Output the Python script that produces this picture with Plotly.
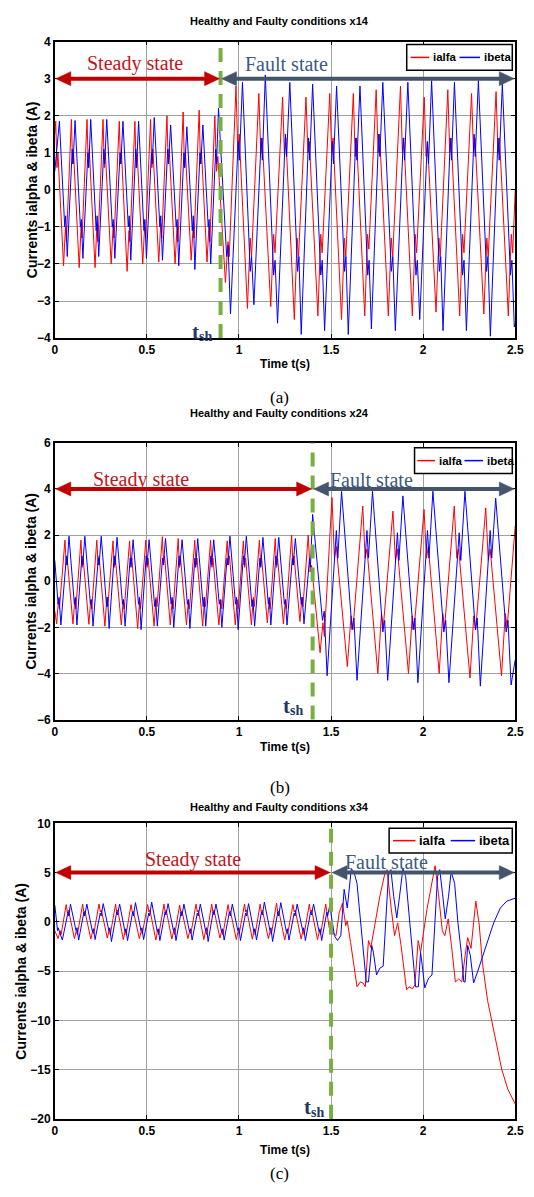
import plotly.graph_objects as go

# ---------------- data ----------------
# phase positions (fraction of local period after each peak) at which values are sampled
PH_IALFA = [0.0, 0.08, 0.14, 0.5, 0.62, 0.68]   # peak, fall-notch lo/hi, trough, rise-notch hi/lo
PH_IBETA = [0.0, 0.34, 0.40, 0.5, 0.82, 0.87]   # peak, fall-notch lo/hi, trough, rise-notch hi/lo

# ---- panel (a) x14, fault at 0.9 s ----
A_TSH = 0.9
A_IALFA_START_T = [0.0]
A_IALFA_START_V = [1.5]
A_IALFA_PEAK_T = [0.005, 0.090, 0.175, 0.262, 0.350, 0.435, 0.520, 0.609, 0.697, 0.784, 0.869,
                  0.984, 1.108, 1.237, 1.364, 1.493, 1.621, 1.745, 1.877, 2.006, 2.134, 2.263, 2.396]
A_IALFA_CYCLES = [
    (1.85, 0.6, 1.0, -2.05, -1.0, -1.4), (1.9, 0.7, 1.0, -2.1, -1.0, -1.3),
    (1.9, 0.6, 1.1, -2.1, -0.9, -1.4), (1.9, 0.6, 1.0, -2.0, -1.0, -1.3),
    (1.85, 0.7, 1.0, -2.2, -1.1, -1.4), (1.85, 0.6, 1.0, -2.0, -1.0, -1.3),
    (1.9, 0.6, 1.1, -1.95, -0.9, -1.3), (2.0, 0.7, 1.1, -2.0, -1.0, -1.4),
    (2.1, 0.6, 1.0, -1.9, -1.0, -1.3), (2.15, 0.7, 1.1, -1.95, -1.0, -1.4),
    (2.0, 0.5, 0.9, -2.5, -1.4, -1.8),
    (2.8, 1.0, 1.5, -3.2, -1.3, -1.8), (2.6, 1.0, 1.4, -3.15, -1.2, -1.7),
    (2.5, 0.9, 1.4, -3.5, -1.3, -1.8), (2.5, 1.0, 1.3, -3.4, -1.2, -1.7),
    (2.6, 1.0, 1.4, -3.5, -1.3, -1.8), (2.6, 0.9, 1.4, -3.4, -1.2, -1.6),
    (2.7, 1.0, 1.5, -3.4, -1.3, -1.8), (2.8, 1.0, 1.4, -3.4, -1.2, -1.7),
    (2.5, 0.9, 1.3, -3.3, -1.3, -1.8), (2.7, 1.0, 1.4, -3.4, -1.2, -1.7),
    (2.6, 1.0, 1.4, -3.35, -1.3, -1.8), (2.65, 1.0, 1.4, -3.4, -1.2, -1.7)]
A_IALFA_END_T = [2.5]
A_IALFA_END_V = [0.0]

A_IBETA_START_T = [0.0]
A_IBETA_START_V = [0.5]
A_IBETA_PEAK_T = [0.025, 0.110, 0.195, 0.282, 0.370, 0.455, 0.540, 0.629, 0.717, 0.804, 0.889,
                  1.019, 1.143, 1.276, 1.400, 1.530, 1.657, 1.781, 1.917, 2.046, 2.170, 2.300, 2.430]
A_IBETA_CYCLES = [
    (1.85, -1.0, -0.7, -1.8, 1.1, 0.7), (1.87, -1.0, -0.8, -1.85, 1.0, 0.6),
    (1.9, -1.1, -0.7, -1.8, 1.1, 0.7), (1.9, -1.0, -0.8, -1.85, 1.0, 0.7),
    (1.85, -1.0, -0.7, -1.9, 1.1, 0.6), (1.85, -1.1, -0.8, -1.85, 1.0, 0.7),
    (1.95, -1.0, -0.7, -1.9, 1.1, 0.7), (1.75, -1.0, -0.8, -2.05, 1.0, 0.6),
    (1.7, -1.1, -0.7, -2.15, 1.0, 0.7), (1.75, -1.0, -0.8, -2.0, 1.1, 0.7),
    (2.2, -1.8, -1.5, -3.35, 1.3, 0.8),
    (2.9, -2.2, -1.8, -3.1, 1.4, 0.8), (3.1, -2.3, -1.9, -3.6, 1.5, 0.9),
    (2.9, -2.2, -1.8, -3.9, 1.4, 0.8), (2.85, -2.3, -1.9, -3.8, 1.3, 0.7),
    (2.8, -2.2, -1.8, -3.9, 1.4, 0.8), (2.8, -2.3, -1.9, -3.75, 1.5, 0.9),
    (2.9, -2.2, -1.8, -3.8, 1.4, 0.8), (2.9, -2.3, -1.9, -3.5, 1.3, 0.7),
    (2.95, -2.2, -1.8, -3.8, 1.4, 0.8), (2.9, -2.3, -1.9, -3.8, 1.5, 0.9),
    (2.95, -2.2, -1.8, -3.95, 1.4, 0.8), (2.85, -2.3, -1.9, -3.7, 1.4, 0.8)]
A_IBETA_END_T = [2.5]
A_IBETA_END_V = [-3.6]

# ---- panel (b) x24, fault at 1.4 s ----
B_TSH = 1.4
B_IALFA_START_T = [0.0, 0.010, 0.020, 0.025]
B_IALFA_START_V = [-1.3, -1.85, -0.8, -1.2]
B_IALFA_PEAK_T = [0.055, 0.142, 0.228, 0.316, 0.406, 0.494, 0.584, 0.670, 0.760, 0.846, 0.936,
                  1.024, 1.111, 1.197, 1.286, 1.376, 1.505, 1.672, 1.836, 2.005, 2.169, 2.340]
B_IALFA_CYCLES = [
    (1.78, 0.7, 1.0, -1.85, -0.8, -1.2), (1.78, 0.6, 1.0, -1.87, -0.8, -1.2),
    (1.78, 0.7, 1.1, -1.95, -0.7, -1.1), (1.75, 0.6, 1.0, -1.9, -0.8, -1.2),
    (1.75, 0.7, 1.0, -2.05, -0.8, -1.2), (1.78, 0.6, 1.0, -1.95, -0.7, -1.1),
    (1.93, 0.7, 1.1, -1.9, -0.8, -1.2), (1.85, 0.6, 1.0, -1.9, -0.8, -1.2),
    (1.78, 0.7, 1.0, -1.95, -0.7, -1.1), (1.78, 0.6, 1.0, -1.9, -0.8, -1.2),
    (1.75, 0.7, 1.1, -1.9, -0.8, -1.2), (1.75, 0.6, 1.0, -1.9, -0.7, -1.1),
    (1.78, 0.7, 1.0, -1.8, -0.8, -1.2), (1.85, 0.6, 1.0, -1.85, -0.8, -1.2),
    (2.0, 0.7, 1.1, -1.75, -0.7, -1.1), (2.0, 0.4, 0.7, -3.1, -1.8, -2.4),
    (3.63, 1.0, 1.5, -3.7, -1.5, -2.1), (3.26, 1.0, 1.4, -4.0, -1.4, -2.0),
    (3.04, 0.9, 1.4, -4.0, -1.5, -2.1), (3.11, 1.0, 1.5, -4.0, -1.4, -2.0),
    (3.26, 1.0, 1.4, -4.2, -1.5, -2.1), (3.18, 0.9, 1.4, -4.1, -1.4, -2.0)]
B_IALFA_END_T = [2.5]
B_IALFA_END_V = [2.4]

B_IBETA_START_T = [0.0, 0.018, 0.023, 0.033, 0.063, 0.067]
B_IBETA_START_V = [0.9, -1.0, -0.7, -1.9, 1.1, 0.7]
B_IBETA_PEAK_T = [0.077, 0.163, 0.252, 0.338, 0.425, 0.512, 0.601, 0.691, 0.776, 0.863, 0.951,
                  1.040, 1.130, 1.216, 1.306, 1.400, 1.557, 1.725, 1.890, 2.053, 2.227, 2.394]
B_IBETA_CYCLES = [
    (1.95, -1.0, -0.7, -1.9, 1.1, 0.7), (1.95, -1.0, -0.8, -1.95, 1.0, 0.7),
    (1.95, -1.1, -0.7, -2.05, 1.1, 0.7), (1.9, -1.0, -0.8, -1.95, 1.0, 0.6),
    (1.8, -1.0, -0.7, -2.1, 1.1, 0.7), (1.8, -1.1, -0.8, -1.95, 1.0, 0.7),
    (1.85, -1.0, -0.7, -2.0, 1.1, 0.7), (1.8, -1.0, -0.8, -2.05, 1.0, 0.6),
    (1.85, -1.1, -0.7, -1.95, 1.1, 0.7), (1.8, -1.0, -0.8, -2.0, 1.0, 0.7),
    (1.95, -1.0, -0.7, -2.1, 1.1, 0.7), (1.95, -1.1, -0.8, -1.95, 1.0, 0.6),
    (1.9, -1.0, -0.7, -1.9, 1.1, 0.7), (1.9, -1.0, -0.8, -1.9, 1.0, 0.7),
    (1.85, -1.0, -0.7, -1.85, 1.0, 0.6), (2.9, -1.7, -1.3, -4.1, 2.2, 1.0),
    (3.9, -2.1, -1.6, -4.3, 2.2, 1.0), (3.9, -2.2, -1.7, -4.3, 2.1, 0.9),
    (3.7, -2.1, -1.6, -4.4, 2.2, 1.0), (3.9, -2.2, -1.7, -4.4, 2.1, 0.9),
    (3.9, -2.1, -1.6, -4.55, 2.2, 1.0), (3.6, -2.2, -1.7, -4.5, 2.1, 0.9)]
B_IBETA_END_T = [2.5]
B_IBETA_END_V = [-3.4]

# ---- panel (c) x34, fault at 1.5 s ----
C_TSH = 1.5
C_IALFA_START_T = [0.0, 0.018, 0.029, 0.034]
C_IALFA_START_V = [-0.9, -1.7, -0.9, -1.3]
C_IALFA_PEAK_T = [0.062, 0.151, 0.240, 0.330, 0.414, 0.504, 0.593, 0.678, 0.767, 0.852, 0.941,
                  1.030, 1.115, 1.204, 1.293, 1.382, 1.471]
C_IALFA_CYCLES = [
    (1.75, 0.9, 1.2, -1.7, -0.9, -1.3), (1.8, 0.9, 1.1, -1.75, -0.9, -1.2),
    (1.8, 1.0, 1.2, -1.65, -0.8, -1.3), (1.8, 0.9, 1.2, -1.8, -0.9, -1.3),
    (1.75, 0.9, 1.1, -1.7, -0.9, -1.2), (1.75, 1.0, 1.2, -1.85, -0.8, -1.3),
    (1.8, 0.9, 1.2, -1.75, -0.9, -1.3), (1.7, 0.9, 1.1, -1.7, -0.9, -1.2),
    (1.8, 1.0, 1.2, -1.8, -0.8, -1.3), (1.8, 0.9, 1.2, -1.65, -0.9, -1.3),
    (1.75, 0.9, 1.1, -1.8, -0.9, -1.2), (1.8, 1.0, 1.2, -1.75, -0.8, -1.3),
    (1.8, 0.9, 1.2, -1.7, -0.9, -1.3), (1.9, 0.9, 1.1, -1.85, -0.9, -1.2),
    (1.75, 1.0, 1.2, -1.75, -0.8, -1.3), (1.8, 0.9, 1.2, -1.8, -0.9, -1.3),
    (1.8,)]
C_IALFA_END_T = [1.490, 1.509, 1.527, 1.544, 1.562, 1.580, 1.588, 1.606, 1.641, 1.659, 1.673, 1.686,
                 1.703, 1.716, 1.739, 1.765, 1.792, 1.804, 1.827, 1.845, 1.862, 1.880, 1.910, 1.924,
                 1.942, 1.955, 1.973, 1.986, 2.021, 2.048, 2.065, 2.083, 2.104, 2.118, 2.136, 2.154,
                 2.175, 2.193, 2.210, 2.228, 2.242, 2.260, 2.286, 2.304, 2.322, 2.350, 2.373, 2.400,
                 2.427, 2.460, 2.500]
C_IALFA_END_V = [-0.6, -1.1, -1.4, 0.9, 1.9, -0.4, 0.1, -2.1, -6.6, -6.1, -6.2, -6.6,
                 -1.9, -2.6, -0.1, 2.6, 4.9, 5.3, 1.3, -1.4, -0.1, -2.4, -6.9, -6.6,
                 -6.8, -6.4, -1.9, -3.1, 1.3, 3.9, 5.7, 2.9, -0.9, -1.4, 0.3, -2.4,
                 -6.1, -5.8, -6.1, -3.4, -1.6, -2.7, 2.1, -0.2, -4.2, -8.0, -10.0, -12.6,
                 -15.0, -17.0, -18.5]

C_IBETA_START_T = [0.0, 0.015, 0.018, 0.041, 0.072, 0.076]
C_IBETA_START_V = [1.7, -0.9, -0.6, -1.85, 1.0, 0.6]
C_IBETA_PEAK_T = [0.085, 0.174, 0.263, 0.352, 0.438, 0.526, 0.615, 0.701, 0.790, 0.875, 0.964,
                  1.052, 1.138, 1.227, 1.316, 1.405, 1.493]
C_IBETA_CYCLES = [
    (1.8, -0.9, -0.6, -1.85, 1.0, 0.6), (1.8, -1.0, -0.7, -1.8, 0.9, 0.6),
    (1.85, -0.9, -0.6, -2.0, 1.0, 0.7), (1.8, -1.0, -0.7, -1.9, 1.0, 0.6),
    (1.95, -0.9, -0.6, -1.8, 0.9, 0.6), (2.0, -1.0, -0.7, -1.9, 1.0, 0.7),
    (1.85, -0.9, -0.6, -1.9, 1.0, 0.6), (1.8, -1.0, -0.7, -1.85, 0.9, 0.6),
    (1.8, -0.9, -0.6, -2.0, 1.0, 0.7), (1.8, -1.0, -0.7, -1.85, 1.0, 0.6),
    (1.8, -0.9, -0.6, -1.9, 0.9, 0.6), (1.85, -1.0, -0.7, -1.85, 1.0, 0.7),
    (2.0, -0.9, -0.6, -2.0, 1.0, 0.6), (1.95, -1.0, -0.7, -1.85, 0.9, 0.6),
    (1.8, -0.9, -0.6, -1.9, 1.0, 0.7), (1.8, -1.0, -0.7, -1.9, 1.0, 0.6),
    (1.7,)]
C_IBETA_END_T = [1.518, 1.535, 1.553, 1.571, 1.580, 1.588, 1.610, 1.624, 1.641, 1.668, 1.691, 1.703,
                 1.721, 1.730, 1.747, 1.765, 1.783, 1.812, 1.825, 1.840, 1.857, 1.872, 1.890, 1.905,
                 1.922, 1.945, 1.959, 1.974, 1.986, 1.995, 2.009, 2.030, 2.048, 2.078, 2.090, 2.105,
                 2.120, 2.138, 2.152, 2.171, 2.189, 2.207, 2.221, 2.228, 2.242, 2.256, 2.274, 2.295,
                 2.313, 2.348, 2.383, 2.419, 2.454, 2.500]
C_IBETA_END_V = [-1.4, -1.9, -1.4, 3.3, 2.3, 1.4, 5.4, 5.1, 3.9, -1.4, -6.1, -6.1,
                 -2.4, -3.1, -5.4, -4.7, -4.5, 4.9, 5.3, 2.6, 0.4, 2.6, 5.4, 4.6,
                 0.9, -4.4, -6.6, -6.6, -3.1, -4.4, -6.7, -5.7, -5.4, 4.6, 5.3, 2.9,
                 0.3, 2.6, 5.1, 3.9, -0.1, -3.1, -6.1, -6.1, -2.4, -3.4, -6.2, -5.1,
                 -4.1, -2.1, -0.1, 1.4, 2.1, 2.4]

TITLES = ["Healthy and Faulty conditions x14", "Healthy and Faulty conditions x24",
          "Healthy and Faulty conditions x34"]
SERIES_NAMES = ["ialfa", "ibeta"]
Y_TITLE = "Currents ialpha & ibeta (A)"
X_TITLE = "Time t(s)"
Y_RANGES = [(-4, 4), (-6, 6), (-20, 10)]
Y_DTICKS = [1, 2, 5]
X_TICKS = [0, 0.5, 1, 1.5, 2, 2.5]
X_TICKTEXT = ["0", "0.5", "1", "1.5", "2", "2.5"]
TSH = [A_TSH, B_TSH, C_TSH]
ARROW_Y = [3, 4, 5]
SUBLABELS = ["(a)", "(b)", "(c)"]


def build(st, sv, peak_t, cycles, phases, et, ev, t_end=2.5):
    ts, vs = list(st), list(sv)
    n = len(peak_t)
    for i, (tp, row) in enumerate(zip(peak_t, cycles)):
        per = (peak_t[i + 1] - tp) if i + 1 < n else (tp - peak_t[i - 1])
        for ph, v in zip(phases, row):
            t = tp + ph * per
            if t < t_end:
                ts.append(round(t, 4))
                vs.append(v)
    ts += list(et)
    vs += list(ev)
    return ts, vs


SERIES = [
    (build(A_IALFA_START_T, A_IALFA_START_V, A_IALFA_PEAK_T, A_IALFA_CYCLES, PH_IALFA, A_IALFA_END_T, A_IALFA_END_V),
     build(A_IBETA_START_T, A_IBETA_START_V, A_IBETA_PEAK_T, A_IBETA_CYCLES, PH_IBETA, A_IBETA_END_T, A_IBETA_END_V)),
    (build(B_IALFA_START_T, B_IALFA_START_V, B_IALFA_PEAK_T, B_IALFA_CYCLES, PH_IALFA, B_IALFA_END_T, B_IALFA_END_V),
     build(B_IBETA_START_T, B_IBETA_START_V, B_IBETA_PEAK_T, B_IBETA_CYCLES, PH_IBETA, B_IBETA_END_T, B_IBETA_END_V)),
    (build(C_IALFA_START_T, C_IALFA_START_V, C_IALFA_PEAK_T, C_IALFA_CYCLES, PH_IALFA, C_IALFA_END_T, C_IALFA_END_V),
     build(C_IBETA_START_T, C_IBETA_START_V, C_IBETA_PEAK_T, C_IBETA_CYCLES, PH_IBETA, C_IBETA_END_T, C_IBETA_END_V)),
]

# ---------------- layout (pixel positions of the page) ----------------
W, H = 534, 1197
PX_X0, PX_X1 = 53, 524
PANEL_PX = [(35, 335), (441, 721), (826, 1125)]
TITLE_PX = [14, 411, 809]
SUB_PX = [395, 790, 1180]
YTITLE_X_PX = [30, 29, 19]
# legend box: left, right, top, bottom, red sample x0,x1, blue sample x0,x1
LEGEND_PX = [(413, 521, 38, 64, 417, 436, 467, 488),
             (421, 521, 446, 472, 424, 442, 472, 491),
             (395, 521, 831, 856, 399, 422, 458, 483)]
LEGEND_FS = [11.5, 11.5, 13]
TSH_LABEL = [(0.865, -3.85), (1.36, -5.45), (1.475, -18.9)]
STEADY_TXT = [(0.435, 3.4), (0.47, 4.4), (0.75, 6.3)]
FAULT_TXT = [(1.26, 3.4), (1.72, 4.4), (1.8, 6.1)]
HEAD_L, HEAD_W = 16, 7   # arrow head length / half height in px

SANS = "Liberation Sans, Arial, sans-serif"
SERIF = "Liberation Serif, Times New Roman, serif"
RED, BLUE = "#ff0000", "#0000ff"
GREEN = "#77b041"
STEADY_COL, FAULT_COL = "#c00000", "#44546a"
STEADY_TXT_COL, FAULT_TXT_COL = "#c0161c", "#3b5a84"
TSH_COL = "#1f3864"


def px2x(px):
    return px / W


def py2y(py):
    return 1 - py / H


fig = go.Figure()
layout = dict(width=W, height=H, margin=dict(l=0, r=0, t=0, b=0),
              paper_bgcolor="white", plot_bgcolor="white", showlegend=False)
annotations, shapes = [], []
bold = dict(family=SANS, color="black", weight="bold")

for k in range(3):
    sfx = "" if k == 0 else str(k + 1)
    xa, ya = "x" + sfx, "y" + sfx
    (rt, rv), (bt, bv) = SERIES[k]
    fig.add_trace(go.Scatter(x=rt, y=rv, mode="lines", name=SERIES_NAMES[0],
                             line=dict(color=RED, width=1), xaxis=xa, yaxis=ya))
    fig.add_trace(go.Scatter(x=bt, y=bv, mode="lines", name=SERIES_NAMES[1],
                             line=dict(color=BLUE, width=1), xaxis=xa, yaxis=ya))
    top, bot = PANEL_PX[k]
    ydom = [py2y(bot), py2y(top)]
    tickfont = dict(bold, size=12)
    layout["xaxis" + sfx] = dict(
        domain=[px2x(PX_X0), px2x(PX_X1)], anchor=ya, range=[0, 2.5],
        tickvals=X_TICKS, ticktext=X_TICKTEXT, tickfont=tickfont,
        ticks="inside", ticklen=4, tickcolor="black", showline=True, linecolor="black", linewidth=1.5,
        mirror="ticks", showgrid=True, gridcolor="#a0a0a0", gridwidth=1, zeroline=False,
        title=dict(text=X_TITLE, font=dict(bold, size=12), standoff=[3, 5, 9][k]))
    y0, y1 = Y_RANGES[k]
    layout["yaxis" + sfx] = dict(
        domain=ydom, anchor=xa, range=[y0, y1], dtick=Y_DTICKS[k], tick0=0, tickfont=tickfont,
        ticks="inside", ticklen=4, tickcolor="black", showline=True, linecolor="black", linewidth=1.5,
        mirror="ticks", showgrid=True, gridcolor="#a0a0a0", gridwidth=1, zeroline=False)

    # y-axis title
    annotations.append(dict(text=Y_TITLE, xref="paper", yref="paper", x=px2x(YTITLE_X_PX[k]),
                            y=(ydom[0] + ydom[1]) / 2, textangle=-90, showarrow=False,
                            xanchor="center", yanchor="middle", font=dict(bold, size=14)))
    # panel title and sub-label
    annotations.append(dict(text=TITLES[k], xref="paper", yref="paper", x=px2x(283), y=py2y(TITLE_PX[k]),
                            xanchor="center", yanchor="middle", showarrow=False, font=dict(bold, size=11)))
    annotations.append(dict(text=SUBLABELS[k], xref="paper", yref="paper", x=px2x(283), y=py2y(SUB_PX[k]),
                            xanchor="center", yanchor="middle", showarrow=False,
                            font=dict(family=SERIF, size=17, color="black")))
    # fault instant line
    shapes.append(dict(type="line", xref=xa, yref=ya + " domain", x0=TSH[k], x1=TSH[k], y0=0, y1=1,
                       line=dict(color=GREEN, width=4, dash="14px,9px")))
    # double arrows: shafts + triangular heads (heads sized in pixels)
    ay = ARROW_Y[k]
    hl = HEAD_L * 2.5 / (PX_X1 - PX_X0)
    for (xs, xe, col) in [(0.0, TSH[k], STEADY_COL), (TSH[k], 2.5, FAULT_COL)]:
        shapes.append(dict(type="line", xref=xa, yref=ya, x0=xs + hl * 0.8, x1=xe - hl * 0.8, y0=ay, y1=ay,
                           line=dict(color=col, width=4)))
        shapes.append(dict(type="path", xref=xa, yref=ya, xsizemode="pixel", ysizemode="pixel",
                           xanchor=xs, yanchor=ay,
                           path=f"M1,0 L{HEAD_L},{HEAD_W} L{HEAD_L},-{HEAD_W} Z",
                           fillcolor=col, line=dict(color=col, width=0.5)))
        shapes.append(dict(type="path", xref=xa, yref=ya, xsizemode="pixel", ysizemode="pixel",
                           xanchor=xe, yanchor=ay,
                           path=f"M-1,0 L-{HEAD_L},{HEAD_W} L-{HEAD_L},-{HEAD_W} Z",
                           fillcolor=col, line=dict(color=col, width=0.5)))
    sx, sy = STEADY_TXT[k]
    annotations.append(dict(text="Steady state", xref=xa, yref=ya, x=sx, y=sy, showarrow=False,
                            xanchor="center", yanchor="middle",
                            font=dict(family=SERIF, size=20, color=STEADY_TXT_COL)))
    fx, fy = FAULT_TXT[k]
    annotations.append(dict(text="Fault state", xref=xa, yref=ya, x=fx, y=fy, showarrow=False,
                            xanchor="center", yanchor="middle",
                            font=dict(family=SERIF, size=20, color=FAULT_TXT_COL)))
    # t_sh label: large "t" with a smaller lowered "sh"
    tx, ty = TSH_LABEL[k]
    annotations.append(dict(text="sh", xref=xa, yref=ya, x=tx, y=ty, showarrow=False,
                            xanchor="right", yanchor="middle", yshift=-4,
                            font=dict(family=SERIF, size=14, color=TSH_COL, weight="bold")))
    annotations.append(dict(text="t", xref=xa, yref=ya, x=tx, y=ty, showarrow=False,
                            xanchor="right", yanchor="middle", xshift=-13, yshift=1,
                            font=dict(family=SERIF, size=21, color=TSH_COL, weight="bold")))

    # legend box (drawn like the MATLAB legend)
    l, r, t, b, rx0, rx1, bx0, bx1 = LEGEND_PX[k]
    ymid = py2y((t + b) / 2)
    shapes.append(dict(type="rect", xref="paper", yref="paper", x0=px2x(l), x1=px2x(r),
                       y0=py2y(b), y1=py2y(t), fillcolor="white", line=dict(color="black", width=1.5)))
    shapes.append(dict(type="line", xref="paper", yref="paper", x0=px2x(rx0), x1=px2x(rx1), y0=ymid, y1=ymid,
                       line=dict(color=RED, width=1.5)))
    shapes.append(dict(type="line", xref="paper", yref="paper", x0=px2x(bx0), x1=px2x(bx1), y0=ymid, y1=ymid,
                       line=dict(color=BLUE, width=1.5)))
    fs = LEGEND_FS[k]
    annotations.append(dict(text=SERIES_NAMES[0], xref="paper", yref="paper", x=px2x(rx1 + 2), y=ymid,
                            xanchor="left", yanchor="middle", showarrow=False, font=dict(bold, size=fs)))
    annotations.append(dict(text=SERIES_NAMES[1], xref="paper", yref="paper", x=px2x(bx1 + 2), y=ymid,
                            xanchor="left", yanchor="middle", showarrow=False, font=dict(bold, size=fs)))

layout["annotations"] = annotations
layout["shapes"] = shapes
fig.update_layout(**layout)
fig.write_html("out.html")
